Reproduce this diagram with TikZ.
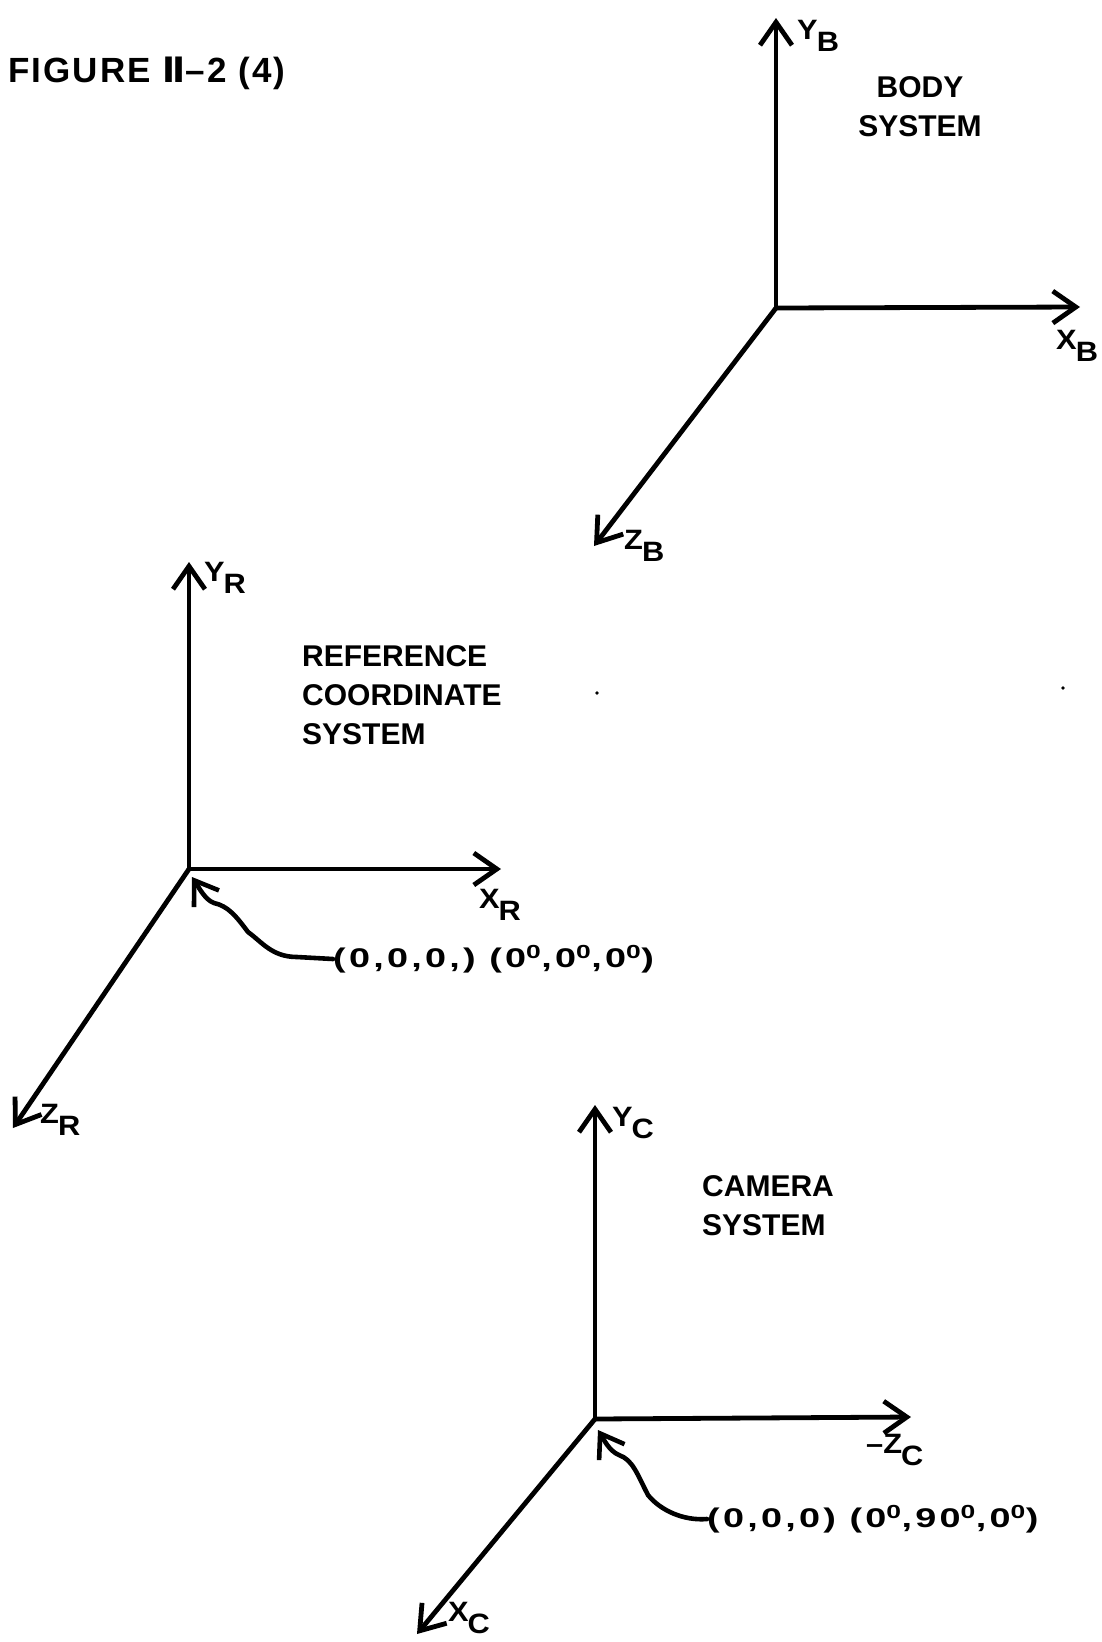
\documentclass[tikz,border=0pt]{standalone}
\usepackage{fontspec}
\setmainfont{Liberation Sans}
\newfontfamily\numfont{DejaVu Sans}
\usetikzlibrary{arrows.meta}
\newcommand\lowsub[1]{\kern-1pt\raisebox{-0.45em}{#1}}

\begin{document}
\begin{tikzpicture}[x=1pt,y=-1pt,line cap=round,line join=round,
  axis/.style={line width=4.8pt,-{Straight Barb[length=23pt,width=32pt]}},
  ptr/.style={line width=4.6pt,-{Straight Barb[length=22pt,width=30pt]}},
  lbl/.style={inner sep=0pt,anchor=west,font=\bfseries\fontsize{28}{28}\selectfont\addfontfeature{FakeStretch=1.1}},
  sys/.style={inner sep=0pt,align=left,font=\bfseries\fontsize{30}{39}\selectfont},
  coordlbl/.style={inner sep=0pt,anchor=west,font=\bfseries\fontsize{27}{27}\selectfont\addfontfeature{FakeStretch=1.4,LetterSpace=12}}]
  \useasboundingbox (0,0) rectangle (1102,1642);

  \node[inner sep=0pt,anchor=west,font=\bfseries\fontsize{35}{35}\selectfont\addfontfeature{LetterSpace=6}] (title) at (8,73) {FIGURE {\numfont Ⅱ}–2 (4)};

  % body system
  \coordinate (oB) at (776,308);
  \coordinate (yB) at (776,18);
  \coordinate (xB) at (1080,307);
  \coordinate (zB) at (594,546);
  \path[axis] (oB) edge (yB) (oB) edge (xB) (oB) edge (zB);
  \node[lbl] (YB) at (797,36) {Y\lowsub{B}};
  \node[lbl] (XB) at (1056,346) {X\lowsub{B}};
  \node[lbl] (ZB) at (624,546) {Z\lowsub{B}};
  \node[sys,align=center] (body) at (920,107) {BODY\\SYSTEM};

  % reference system
  \coordinate (oR) at (189,869);
  \coordinate (yR) at (189,562);
  \coordinate (xR) at (501,869);
  \coordinate (zR) at (13,1128);
  \path[axis] (oR) edge (yR) (oR) edge (xR) (oR) edge (zR);
  \node[lbl] (YR) at (204,578) {Y\lowsub{R}};
  \node[lbl] (XR) at (479,905) {X\lowsub{R}};
  \node[lbl] (ZR) at (40,1120) {Z\lowsub{R}};
  \node[sys,anchor=west] (ref) at (302,695) {REFERENCE\\COORDINATE\\SYSTEM};
  \node[coordlbl] (ptR) at (333,959) {(0,0,0,) (0\textsuperscript{0},0\textsuperscript{0},0\textsuperscript{0})};
  \coordinate (tipR) at (192,877);
  \draw[ptr] (ptR.west) -- (297,957) .. controls (272,957) and (262,942) .. (248,932)
    .. controls (236,916) and (228,906) .. (214,903) .. controls (205,900) and (198,886) .. (tipR);

  % camera system
  \coordinate (oC) at (595,1419);
  \coordinate (yC) at (595,1105);
  \coordinate (mzC) at (911,1417);
  \coordinate (xC) at (417,1634);
  \path[axis] (oC) edge (yC) (oC) edge (mzC) (oC) edge (xC);
  \node[lbl] (YC) at (612,1123) {Y\lowsub{C}};
  \node[lbl] (ZC) at (866,1450) {–Z\lowsub{C}};
  \node[lbl] (XC) at (448,1618) {X\lowsub{C}};
  \node[sys,anchor=west] (cam) at (702,1206) {CAMERA\\SYSTEM};
  \node[coordlbl] (ptC) at (707,1519) {(0,0,0) (0\textsuperscript{0},90\textsuperscript{0},0\textsuperscript{0})};
  \coordinate (tipC) at (598,1430);
  \draw[ptr] (ptC.west) .. controls (683,1521) and (660,1510) .. (648,1495)
    .. controls (637,1474) and (633,1460) .. (619,1455) .. controls (609,1451) and (603,1438) .. (tipC);

  \fill (597,693) circle (1.8) (1063,688) circle (1.8);
\end{tikzpicture}
\end{document}
